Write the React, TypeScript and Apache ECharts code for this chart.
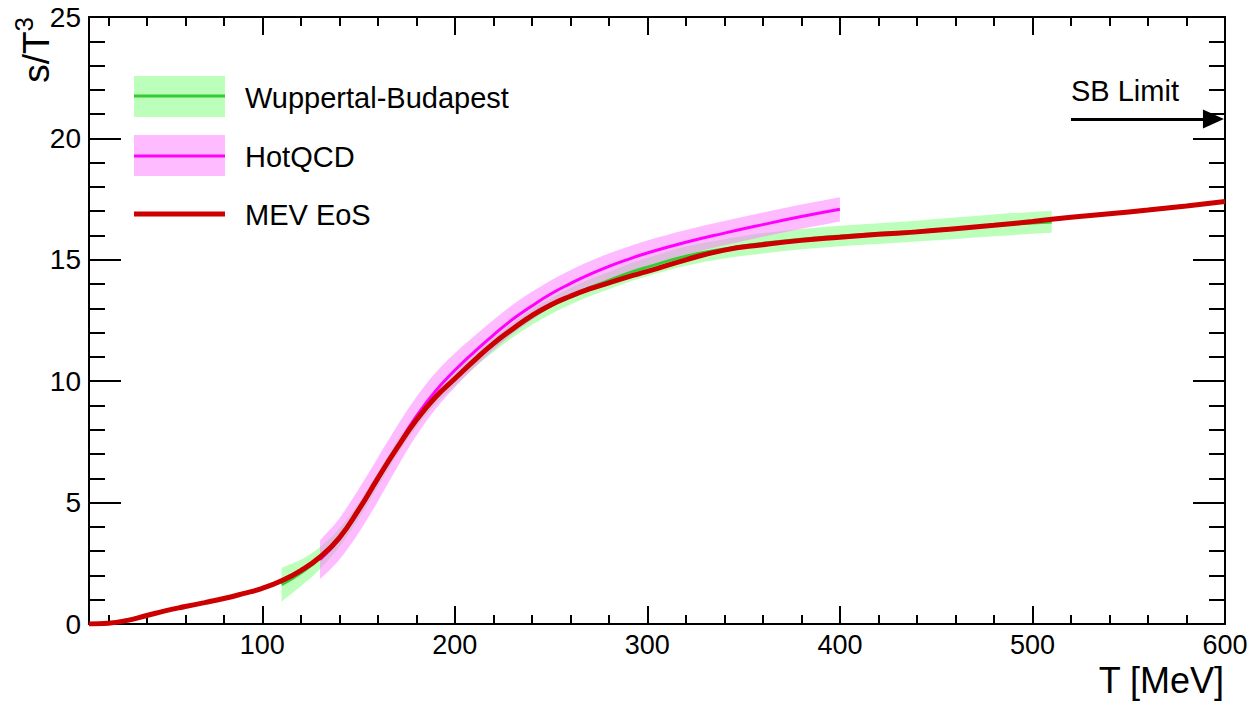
import React, { useEffect, useRef } from 'react';
import * as echarts from 'echarts';

const FONT = '"Liberation Sans", Arial, Helvetica, sans-serif';

// MEV EoS
const mevT = [10, 20, 30, 40, 50, 60, 70, 80, 90, 100, 110, 120, 130, 140, 150, 160, 170, 180, 190, 200, 210, 220, 230, 240, 250, 260, 270, 280, 290, 300, 320, 340, 360, 380, 400, 420, 440, 460, 480, 500, 520, 540, 560, 580, 600];
const mevS = [0, 0.03, 0.15, 0.35, 0.55, 0.72, 0.88, 1.05, 1.25, 1.47, 1.78, 2.2, 2.76, 3.55, 4.7, 6.0, 7.25, 8.4, 9.35, 10.1, 10.85, 11.55, 12.15, 12.7, 13.15, 13.5, 13.8, 14.05, 14.3, 14.52, 15.0, 15.4, 15.62, 15.8, 15.93, 16.05, 16.15, 16.28, 16.42, 16.58, 16.75, 16.9, 17.05, 17.22, 17.4];

// Wuppertal-Budapest
const wbT = [110, 120, 130, 140, 150, 160, 170, 180, 190, 200, 210, 220, 230, 240, 250, 260, 270, 280, 290, 300, 320, 340, 360, 380, 400, 420, 440, 460, 480, 500, 510];
const wbS = [1.62, 2.1, 2.72, 3.55, 4.65, 5.95, 7.25, 8.4, 9.35, 10.1, 10.85, 11.5, 12.1, 12.65, 13.1, 13.5, 13.85, 14.15, 14.45, 14.7, 15.15, 15.45, 15.68, 15.85, 15.98, 16.08, 16.18, 16.3, 16.42, 16.52, 16.56];
const wbErr = [0.7, 0.55, 0.45, 0.38, 0.33, 0.3, 0.3, 0.3, 0.3, 0.3, 0.3, 0.3, 0.3, 0.32, 0.33, 0.34, 0.35, 0.36, 0.37, 0.38, 0.4, 0.4, 0.42, 0.42, 0.42, 0.43, 0.43, 0.44, 0.45, 0.45, 0.45];

// HotQCD
const hqT = [130, 140, 150, 160, 170, 180, 190, 200, 210, 220, 230, 240, 250, 260, 270, 280, 290, 300, 320, 340, 360, 380, 400];
const hqS = [2.65, 3.5, 4.65, 5.95, 7.3, 8.55, 9.6, 10.45, 11.2, 11.9, 12.55, 13.1, 13.6, 14.02, 14.4, 14.73, 15.02, 15.28, 15.72, 16.1, 16.45, 16.78, 17.08];
const hqErr = [0.8, 0.85, 0.9, 0.9, 0.85, 0.8, 0.75, 0.7, 0.65, 0.62, 0.6, 0.58, 0.56, 0.55, 0.54, 0.53, 0.52, 0.52, 0.51, 0.5, 0.5, 0.5, 0.5];

// SB limit arrow
const sbValue = 20.8;
const sbStart = 520;
const sbEnd = 594;

// Axis ticks
const xMin = 10;
const xMax = 600;
const xMajor = [100, 200, 300, 400, 500, 600];
const xMinor = [20, 40, 60, 80, 120, 140, 160, 180, 220, 240, 260, 280, 320, 340, 360, 380, 420, 440, 460, 480, 520, 540, 560, 580];
const yMin = 0;
const yMax = 25;
const yStep = 5;

function smoothSeg(pts: number[][]): string {
  let s = '';
  const n = pts.length;
  for (let i = 0; i < n - 1; i++) {
    const p0 = pts[i - 1] || pts[i];
    const p1 = pts[i];
    const p2 = pts[i + 1];
    const p3 = pts[i + 2] || p2;
    const c1x = p1[0] + (p2[0] - p0[0]) / 6;
    const c1y = p1[1] + (p2[1] - p0[1]) / 6;
    const c2x = p2[0] - (p3[0] - p1[0]) / 6;
    const c2y = p2[1] - (p3[1] - p1[1]) / 6;
    s += ` C ${c1x} ${c1y} ${c2x} ${c2y} ${p2[0]} ${p2[1]}`;
  }
  return s;
}

function bandRenderer(xs: number[], ys: number[], errs: number[], color: string) {
  return (params: any, api: any) => {
    if (params.dataIndex !== 0) return null;
    const up = xs.map((x, i) => api.coord([x, ys[i] + errs[i]]));
    const lo = xs.map((x, i) => api.coord([x, ys[i] - errs[i]])).reverse();
    const d = `M ${up[0][0]} ${up[0][1]}` + smoothSeg(up) + ` L ${lo[0][0]} ${lo[0][1]}` + smoothSeg(lo) + ' Z';
    return {
      type: 'path',
      shape: { pathData: d },
      style: { fill: color, stroke: null },
      silent: true,
    };
  };
}

const blackLine = { color: '#000', width: 2 };

function xAxisDef(position: 'top' | 'bottom', ticks: number[], len: number, showLine: boolean, showLabel: boolean) {
  return {
    type: 'value',
    min: xMin,
    max: xMax,
    position,
    splitLine: { show: false },
    axisLine: { show: showLine, onZero: false, lineStyle: blackLine },
    axisTick: { show: true, inside: true, length: len, customValues: ticks, lineStyle: blackLine },
    axisLabel: showLabel
      ? { show: true, customValues: ticks, color: '#000', fontSize: 27, fontFamily: FONT, margin: 7 }
      : { show: false },
  };
}

function yAxisDef(position: 'left' | 'right', showLabel: boolean) {
  return {
    type: 'value',
    min: yMin,
    max: yMax,
    interval: yStep,
    position,
    splitLine: { show: false },
    minorSplitLine: { show: false },
    axisLine: { show: true, onZero: false, lineStyle: blackLine },
    axisTick: { show: true, inside: true, length: 32, lineStyle: blackLine },
    minorTick: { show: true, splitNumber: 5, length: 16, lineStyle: blackLine },
    axisLabel: showLabel
      ? { show: true, color: '#000', fontSize: 28, fontFamily: FONT, margin: 8 }
      : { show: false },
  };
}

export default function App() {
  const ref = useRef<HTMLDivElement>(null);
  useEffect(() => {
    const chart = echarts.init(ref.current as HTMLDivElement, null, { renderer: 'svg' });
    const pairs = (xs: number[], ys: number[]) => xs.map((x, i) => [x, ys[i]]);
    const legendText = (text: string, y: number) => ({
      type: 'text',
      x: 245,
      y,
      style: { text, fontSize: 29, fontFamily: FONT, fill: '#000', verticalAlign: 'middle' },
    });
    const option: any = {
      animation: false,
      backgroundColor: '#fff',
      grid: { left: 89, top: 17, right: 34, bottom: 77 },
      xAxis: [
        xAxisDef('bottom', xMajor, 18, true, true),
        xAxisDef('bottom', xMinor, 9, false, false),
        xAxisDef('top', xMajor, 18, true, false),
        xAxisDef('top', xMinor, 9, false, false),
      ],
      yAxis: [yAxisDef('left', true), yAxisDef('right', false)],
      series: [
        {
          type: 'custom',
          name: 'WB band',
          xAxisIndex: 0,
          yAxisIndex: 0,
          data: pairs(wbT, wbS),
          renderItem: bandRenderer(wbT, wbS, wbErr, 'rgba(119,255,119,0.5)'),
          silent: true,
          z: 1,
        },
        {
          type: 'custom',
          name: 'HotQCD band',
          xAxisIndex: 0,
          yAxisIndex: 0,
          data: pairs(hqT, hqS),
          renderItem: bandRenderer(hqT, hqS, hqErr, 'rgba(255,119,255,0.5)'),
          silent: true,
          z: 2,
        },
        {
          type: 'line',
          name: 'Wuppertal-Budapest',
          xAxisIndex: 0,
          yAxisIndex: 0,
          data: pairs(wbT, wbS),
          smooth: true,
          showSymbol: false,
          lineStyle: { color: '#33cc33', width: 3 },
          itemStyle: { color: '#33cc33' },
          silent: true,
          z: 3,
        },
        {
          type: 'line',
          name: 'HotQCD',
          xAxisIndex: 0,
          yAxisIndex: 0,
          data: pairs(hqT, hqS),
          smooth: true,
          showSymbol: false,
          lineStyle: { color: '#ff00ff', width: 3 },
          itemStyle: { color: '#ff00ff' },
          silent: true,
          z: 4,
        },
        {
          type: 'line',
          name: 'MEV EoS',
          xAxisIndex: 0,
          yAxisIndex: 0,
          data: pairs(mevT, mevS),
          smooth: true,
          showSymbol: false,
          lineStyle: { color: '#cc0000', width: 5 },
          itemStyle: { color: '#cc0000' },
          silent: true,
          z: 5,
          markLine: {
            silent: true,
            animation: false,
            symbol: ['none', 'triangle'],
            symbolSize: [19, 21],
            lineStyle: { color: '#000', width: 3, type: 'solid' },
            itemStyle: { color: '#000' },
            label: {
              show: true,
              formatter: 'SB Limit',
              position: 'insideStartTop',
              color: '#000',
              fontSize: 29,
              fontFamily: FONT,
              distance: [0, 13],
            },
            data: [[{ coord: [sbStart, sbValue] }, { coord: [sbEnd, sbValue] }]],
          },
        },
      ],
      graphic: [
        { type: 'rect', shape: { x: 134, y: 76, width: 91, height: 41 }, style: { fill: '#bbffbb' } },
        { type: 'line', shape: { x1: 134, y1: 96, x2: 225, y2: 96 }, style: { stroke: '#33cc33', lineWidth: 3 } },
        legendText('Wuppertal-Budapest', 98),
        { type: 'rect', shape: { x: 134, y: 135, width: 91, height: 41 }, style: { fill: '#ffbbff' } },
        { type: 'line', shape: { x1: 134, y1: 156, x2: 225, y2: 156 }, style: { stroke: '#ff00ff', lineWidth: 3 } },
        legendText('HotQCD', 157),
        { type: 'line', shape: { x1: 134, y1: 214, x2: 225, y2: 214 }, style: { stroke: '#cc0000', lineWidth: 5 } },
        legendText('MEV EoS', 215),
        { type: 'text', x: 1224, y: 680, style: { text: 'T [MeV]', fontSize: 36, fontFamily: FONT, fill: '#000', align: 'right', verticalAlign: 'middle' } },
        {
          type: 'text',
          x: 36,
          y: 17,
          rotation: Math.PI / 2,
          style: {
            text: '{a|s/T}{b|3}',
            rich: {
              a: { fontSize: 37, lineHeight: 50, fontFamily: FONT, fill: '#000' },
              b: { fontSize: 26, lineHeight: 26, fontFamily: FONT, fill: '#000', verticalAlign: 'top' },
            },
            fill: '#000',
            align: 'right',
            verticalAlign: 'middle',
          },
        },
      ],
    };
    chart.setOption(option);
    return () => chart.dispose();
  }, []);
  return (
    <div
      ref={ref}
      style={{ position: 'absolute', left: 0, top: 0, width: 1259, height: 701, background: '#fff' }}
    />
  );
}
